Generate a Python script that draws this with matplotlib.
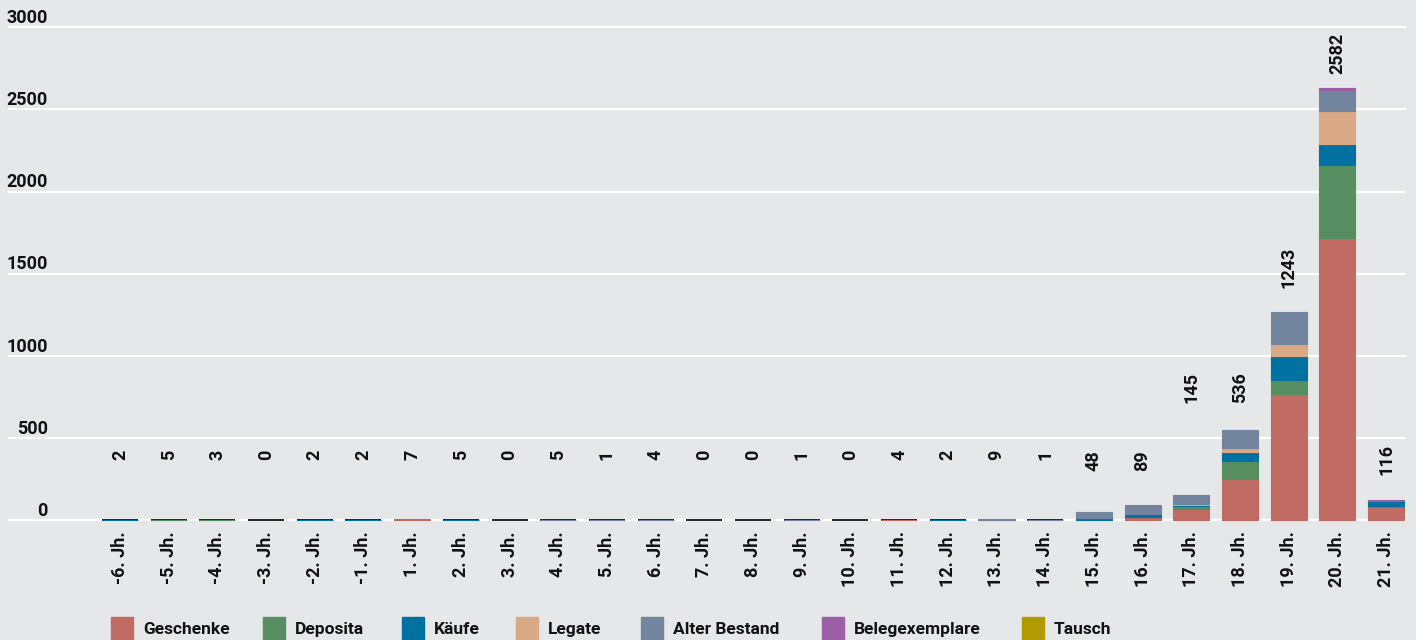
import numpy as np
import matplotlib.pyplot as plt
from matplotlib.patches import Rectangle

plt.rcParams['font.family'] = ['Roboto', 'DejaVu Sans']

# Jahrhunderte
centuries = ['-6. Jh.', '-5. Jh.', '-4. Jh.', '-3. Jh.', '-2. Jh.', '-1. Jh.',
             '1. Jh.', '2. Jh.', '3. Jh.', '4. Jh.', '5. Jh.', '6. Jh.', '7. Jh.',
             '8. Jh.', '9. Jh.', '10. Jh.', '11. Jh.', '12. Jh.', '13. Jh.',
             '14. Jh.', '15. Jh.', '16. Jh.', '17. Jh.', '18. Jh.', '19. Jh.',
             '20. Jh.', '21. Jh.']

# Summen wie beschriftet
totals = [2, 5, 3, 0, 2, 2, 7, 5, 0, 5, 1, 4, 0, 0, 1, 0, 4, 2, 9, 1,
          48, 89, 145, 536, 1243, 2582, 116]

# Anteile pro Herkunft (aus dem Bild geschaetzt)
geschenke      = [0, 0, 0, 0, 0, 0, 7, 0, 0, 0, 0, 0, 0, 0, 0, 0, 4, 0, 0, 0,
                  6, 21, 70, 252, 769, 1720, 83]
deposita       = [0, 5, 3, 0, 0, 0, 0, 0, 0, 0, 0, 0, 0, 0, 0, 0, 0, 0, 0, 0,
                  0, 0, 16, 109, 85, 442, 6]
kaeufe         = [2, 0, 0, 0, 2, 2, 0, 5, 0, 0, 0, 0, 0, 0, 0, 0, 0, 2, 5, 0,
                  8, 20, 10, 55, 146, 128, 29]
legate         = [0, 0, 0, 0, 0, 0, 0, 0, 0, 0, 0, 0, 0, 0, 0, 0, 0, 0, 0, 0,
                  4, 0, 6, 24, 73, 201, 0]
alter_bestand  = [0, 0, 0, 0, 0, 0, 0, 0, 0, 5, 1, 4, 0, 0, 1, 0, 0, 0, 4, 1,
                  35, 53, 53, 109, 195, 128, 0]
belegexemplare = [0, 0, 0, 0, 0, 0, 0, 0, 0, 0, 0, 0, 0, 0, 0, 0, 0, 0, 0, 0,
                  0, 0, 0, 0, 0, 10, 8]
tausch         = [0] * 27

series = [('Geschenke', geschenke, '#c06c65'),
          ('Deposita', deposita, '#568e62'),
          ('Käufe', kaeufe, '#0071a0'),
          ('Legate', legate, '#d9a985'),
          ('Alter Bestand', alter_bestand, '#73849f'),
          ('Belegexemplare', belegexemplare, '#9b5ea7'),
          ('Tausch', tausch, '#b19b00')]

# Lage der Summen-Beschriftung (oberes Ende, Datenwerte)
label_top = [429] * 20 + [429, 429, 903, 903, 1665, 2963, 465]

bg = '#e6e7e9'
W, H = 1416, 640
fig = plt.figure(figsize=(W / 100, H / 100), dpi=100, facecolor=bg)
ax = fig.add_axes([8 / W, 1 - 530 / H, 1398 / W, 530 / H], facecolor=bg)

x = np.arange(len(centuries))
ax.set_xlim(-2.30, 26.41)
ax.set_ylim(-57.8, 3166)

for v in range(0, 3001, 500):
    ax.axhline(v, color='white', lw=1.6, zorder=1)
    ax.annotate(str(v), xy=(0.0286, v), xycoords=('axes fraction', 'data'),
                xytext=(0, 3.3), textcoords='offset points', ha='right',
                va='baseline', fontsize=13, fontweight='bold', color='#111111')

width = 0.74
ax.hlines(np.full(len(x), 0.5), x - width / 2, x + width / 2,
          color='#222222', lw=1.4, zorder=2)

bottom = np.zeros(len(x))
for name, vals, col in series:
    vals = np.array(vals, dtype=float)
    edges = [col if v > 0 else 'none' for v in vals]
    ax.bar(x, vals, width, bottom=bottom, color=col, edgecolor=edges,
           linewidth=0.8, zorder=3)
    bottom += vals

for xi, t, ly in zip(x, totals, label_top):
    ax.text(xi, ly, str(t), rotation=90, ha='center', va='top',
            fontsize=13, fontweight='bold', color='#111111')

ax.set_xticks(x)
ax.set_xticklabels(centuries, rotation=90, fontsize=13, fontweight='bold',
                   color='#111111')
ax.tick_params(axis='x', length=0, pad=1)
ax.set_yticks([])
for s in ax.spines.values():
    s.set_visible(False)

# Legende
legend_x = [111, 263, 402, 516, 641, 822, 1022]
for lx, (name, vals, col) in zip(legend_x, series):
    fig.add_artist(Rectangle((lx / W, 0), 22 / W, 23 / H, color=col,
                             transform=fig.transFigure))
    fig.text((lx + 32) / W, 6 / H, name, fontsize=12.5, fontweight='bold',
             color='#111111', va='baseline')

fig.savefig('out.png', dpi=100, facecolor=bg)
